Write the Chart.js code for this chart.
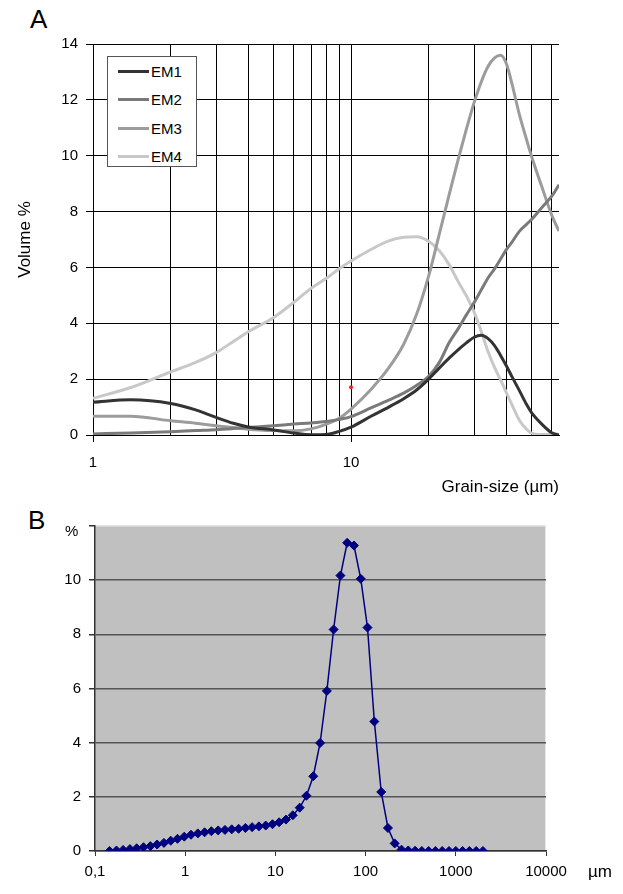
<!DOCTYPE html>
<html>
<head>
<meta charset="utf-8">
<title>Grain-size distributions</title>
<script src="https://cdn.jsdelivr.net/npm/chart.js@4.4.1/dist/chart.umd.min.js"></script>
<style>
  body { margin: 0; background: #fff; font-family: "Liberation Sans", Arial, sans-serif; }
  #wrap { position: relative; width: 623px; height: 894px; overflow: hidden; }
  .panel { position: absolute; left: 0; }
  .tag { position: absolute; font-size: 26px; line-height: 26px; color: #000; }
  #legend { position: absolute; left: 107px; top: 56px; width: 90px; height: 111px;
            border: 1px solid #555; background: #fff; box-sizing: border-box; }
  #legend .row { position: absolute; left: 10px; height: 18px; font-size: 15px; line-height: 18px; }
  #legend .swatch { position: absolute; left: 0; top: 7px; width: 31px; height: 3px; }
  #legend .name { position: absolute; left: 33px; top: 0; }
  .axisnote { position: absolute; line-height: 20px; }
</style>
</head>
<body>
<div id="wrap">
  <div class="tag" style="left:30px; top:6px;">A</div>
  <div class="panel" style="top:0;"><canvas id="endMembers" width="623" height="500"></canvas></div>
  <div id="legend"></div>
  <div class="tag" style="left:28px; top:507px;">B</div>
  <div class="panel" style="top:500px;"><canvas id="sample" width="623" height="394"></canvas></div>
  <div class="axisnote" style="left:65px; top:521px; font-size:15px;">%</div>
  <div class="axisnote" style="left:588px; top:862px; font-size:17px;">µm</div>
</div>
<script>
// --- panel A: end-member grain-size curves (volume %) ---
const grainSize = [1, 1.4, 2, 2.5, 3, 3.5, 4, 5, 6, 7, 8, 9, 10, 12, 14, 16, 18, 20, 22, 24,
                   26, 28, 30, 32, 34, 36, 38, 40, 42, 45, 48, 50, 55, 60, 64];
const em1 = [1.17, 1.26, 1.13, 0.9, 0.63, 0.42, 0.29, 0.18, 0.07, 0.01, 0.02, 0.13, 0.28, 0.68, 1.0, 1.3, 1.62, 2.0, 2.4, 2.75,
             3.05, 3.3, 3.5, 3.57, 3.45, 3.2, 2.85, 2.48, 2.1, 1.58, 1.08, 0.81, 0.38, 0.08, 0.0];
const em2 = [0.04, 0.07, 0.12, 0.16, 0.19, 0.23, 0.27, 0.33, 0.39, 0.43, 0.48, 0.56, 0.66, 0.98, 1.25, 1.5, 1.78, 2.1, 2.6, 3.3,
             3.8, 4.3, 4.74, 5.2, 5.63, 5.95, 6.3, 6.64, 6.9, 7.3, 7.55, 7.71, 8.15, 8.55, 8.96];
const em3 = [0.67, 0.67, 0.51, 0.42, 0.33, 0.27, 0.21, 0.16, 0.15, 0.22, 0.38, 0.6, 0.93, 1.65, 2.4, 3.25, 4.35, 5.7, 7.2, 8.6,
             9.85, 10.95, 11.9, 12.65, 13.2, 13.5, 13.6, 13.3, 12.6, 11.45, 10.55, 10.0, 8.87, 7.87, 7.3];
const em4 = [1.31, 1.7, 2.26, 2.6, 2.95, 3.35, 3.7, 4.2, 4.75, 5.25, 5.6, 5.95, 6.23, 6.65, 6.95, 7.08, 7.1, 6.94, 6.6, 6.1,
             5.5, 4.98, 4.4, 3.7, 2.98, 2.42, 1.97, 1.52, 1.1, 0.52, 0.2, 0.07, 0.02, 0.02, 0.03];
const memberNames = ["EM1", "EM2", "EM3", "EM4"];
const memberColors = ["#333333", "#7a7a7a", "#9c9c9c", "#c8c8c8"];
const gridSizes = [1, 2, 3, 4, 5, 6, 7, 8, 9, 10, 20, 30, 40, 50, 60];
const labelledSizes = [1, 10];
const volumeTicks = [0, 2, 4, 6, 8, 10, 12, 14];
const strayDot = [{ x: 10, y: 1.71 }];

// --- panel B: measured sample distribution (%) ---
const binSize = [0.145, 0.173, 0.205, 0.244, 0.29, 0.345, 0.411, 0.488, 0.581, 0.691, 0.821, 0.977, 1.16, 1.38,
                 1.64, 1.95, 2.32, 2.76, 3.28, 3.91, 4.65, 5.52, 6.57, 7.81, 9.29, 11.0, 13.1, 15.6,
                 18.6, 22.1, 26.3, 31.3, 37.2, 44.2, 52.6, 62.5, 74.3, 88.4, 105, 125, 149, 177,
                 210, 250, 297, 354, 420, 500, 595, 707, 841, 1000, 1189, 1414, 1682, 2000];
const binPercent = [0.0, 0.02, 0.04, 0.07, 0.10, 0.14, 0.18, 0.24, 0.30, 0.38, 0.45, 0.53, 0.60, 0.65,
                    0.69, 0.73, 0.76, 0.78, 0.80, 0.82, 0.85, 0.88, 0.91, 0.94, 0.99, 1.06, 1.16, 1.32,
                    1.60, 2.04, 2.76, 3.99, 5.91, 8.18, 10.17, 11.38, 11.28, 10.05, 8.25, 4.78, 2.18, 0.85,
                    0.28, 0.05, 0.02, 0.01, 0, 0, 0, 0, 0, 0, 0, 0, 0, 0];
const decadeTicks = [0.1, 1, 10, 100, 1000, 10000];
const percentTicks = [0, 2, 4, 6, 8, 10, 12];

const FONT = '"Liberation Sans", Arial, sans-serif';
Chart.defaults.font.family = FONT;
Chart.defaults.color = "#000";
Chart.defaults.animation = false;

const pts = (xs, ys) => xs.map((x, i) => ({ x: x, y: ys[i] }));
const toTicks = vals => vals.map(v => ({ value: v }));

// legend box, built from the same names/colours as the datasets
const legend = document.getElementById("legend");
memberNames.forEach((name, i) => {
  legend.innerHTML += `<div class="row" style="top:${6 + i * 28.3}px">
      <span class="swatch" style="background:${memberColors[i]}"></span><span class="name">${name}</span></div>`;
});

const members = [em1, em2, em3, em4];
new Chart(document.getElementById("endMembers"), {
  type: "line",
  data: {
    datasets: members.map((ys, i) => ({
      label: memberNames[i],
      data: pts(grainSize, ys),
      borderColor: memberColors[i],
      borderWidth: 3,
      pointRadius: 0,
      cubicInterpolationMode: "monotone",
      fill: false
    })).concat([{
      label: "dot",
      data: strayDot,
      showLine: false,
      pointRadius: 2,
      pointBackgroundColor: "#ff2020",
      pointBorderWidth: 0
    }])
  },
  options: {
    responsive: false,
    layout: { padding: { top: 44, right: 64, left: 0, bottom: 0 } },
    plugins: { legend: { display: false }, tooltip: { enabled: false } },
    scales: {
      x: {
        type: "logarithmic",
        min: 1,
        max: 64,
        afterBuildTicks: s => { s.ticks = toTicks(gridSizes); },
        afterFit: s => { s.height = 65; },
        grid: {
          color: "#000",
          lineWidth: 1,
          tickLength: 7,
          tickColor: c => (c.tick && labelledSizes.includes(c.tick.value)) ? "#000" : "rgba(0,0,0,0)"
        },
        border: { color: "#000" },
        ticks: {
          autoSkip: false,
          maxRotation: 0,
          padding: 12,
          font: { size: 15 },
          callback: v => labelledSizes.includes(v) ? String(v) : ""
        },
        title: {
          display: true,
          text: "Grain-size (µm)",
          align: "end",
          font: { size: 17 },
          padding: { top: 0, bottom: 2 }
        }
      },
      y: {
        min: 0,
        max: 14,
        afterBuildTicks: s => { s.ticks = toTicks(volumeTicks); },
        afterFit: s => { s.width = 93; },
        grid: { color: "#000", lineWidth: 1, tickLength: 7, tickColor: "#000" },
        border: { color: "#000" },
        ticks: { padding: 8, font: { size: 15 } },
        title: {
          display: true,
          text: "Volume %",
          font: { size: 17 },
          padding: { top: 15, bottom: 0 }
        }
      }
    }
  }
});

// grey plot area with a light right edge, as in spreadsheet charts
const plotBackground = {
  id: "plotBackground",
  beforeDraw(chart, args, opts) {
    const { ctx, chartArea: a } = chart;
    ctx.save();
    ctx.fillStyle = opts.color;
    ctx.fillRect(a.left, a.top, a.right - a.left, a.bottom - a.top);
    ctx.strokeStyle = opts.edge;
    ctx.lineWidth = 1;
    ctx.beginPath();
    ctx.moveTo(a.right - 0.5, a.top);
    ctx.lineTo(a.right - 0.5, a.bottom);
    ctx.stroke();
    ctx.restore();
  }
};

new Chart(document.getElementById("sample"), {
  type: "line",
  data: {
    datasets: [{
      label: "sample",
      data: pts(binSize, binPercent),
      borderColor: "#000080",
      borderWidth: 1.5,
      pointStyle: "rectRot",
      pointRadius: 4.5,
      pointBackgroundColor: "#000080",
      pointBorderColor: "#000080",
      pointBorderWidth: 1,
      tension: 0,
      fill: false
    }]
  },
  plugins: [plotBackground],
  options: {
    responsive: false,
    layout: { padding: { top: 26, right: 77, left: 0, bottom: 0 } },
    plugins: {
      legend: { display: false },
      tooltip: { enabled: false },
      plotBackground: { color: "#c0c0c0", edge: "#e6e6e6" }
    },
    scales: {
      x: {
        type: "logarithmic",
        min: 0.1,
        max: 10000,
        afterBuildTicks: s => { s.ticks = toTicks(decadeTicks); },
        afterFit: s => { s.height = 43; },
        grid: { drawOnChartArea: false, tickLength: 5, tickColor: "#333", lineWidth: 1 },
        border: { color: "#333", width: 1.5 },
        ticks: {
          autoSkip: false,
          maxRotation: 0,
          padding: 7,
          font: { size: 15 },
          callback: v => String(v).replace(".", ",")
        }
      },
      y: {
        min: 0,
        max: 12,
        afterBuildTicks: s => { s.ticks = toTicks(percentTicks); },
        afterFit: s => { s.width = 95; },
        grid: {
          color: c => c.tick && c.tick.value === 12 ? "#e6e6e6" : "#555",
          lineWidth: 1.5,
          tickLength: 6,
          tickColor: "#333"
        },
        border: { color: "#333", width: 1.5 },
        ticks: {
          padding: 8,
          font: { size: 15 },
          // the top tick carries the unit, drawn separately just below it
          callback: v => v === 12 ? "" : String(v)
        }
      }
    }
  }
});
</script>
</body>
</html>
